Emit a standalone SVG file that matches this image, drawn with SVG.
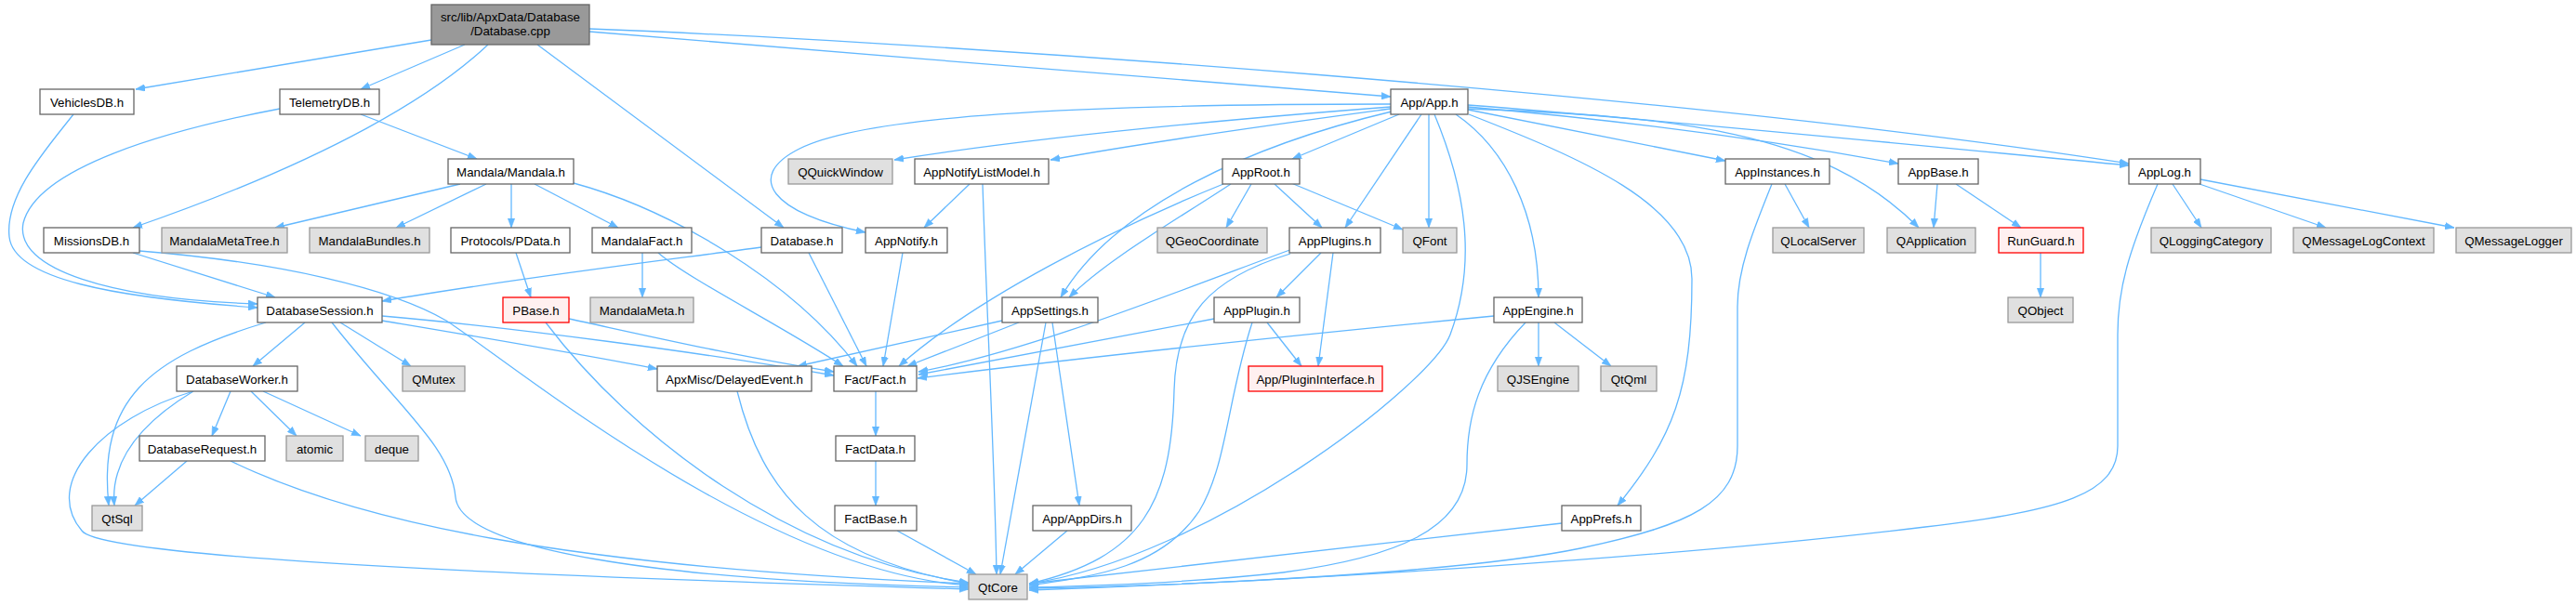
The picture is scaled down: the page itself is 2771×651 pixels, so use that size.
<svg xmlns="http://www.w3.org/2000/svg" width="2771" height="651" viewBox="0 0 2771 651">
<defs>
<marker id="a" markerUnits="userSpaceOnUse" viewBox="0 0 10 8" refX="10" refY="4" markerWidth="10" markerHeight="8" orient="auto">
<polygon points="0,0.3 10,4 0,7.7" fill="#63B8FF" stroke="#63B8FF" stroke-width="0.6"/>
</marker>
</defs>
<style>
.n rect{fill:#ffffff;stroke:#666666;stroke-width:1.3}
.g rect{fill:#E0E0E0;stroke:#999999;stroke-width:1.3}
.r rect{fill:#FFF0F0;stroke:#FF0000;stroke-width:1.3}
.root rect{fill:#999999;stroke:#666666;stroke-width:1.3}
text{font-family:"Liberation Sans",Arial,sans-serif;font-size:13.3px;fill:#000;text-anchor:middle}
#edges path{fill:none;stroke:#63B8FF;stroke-width:1.3;marker-end:url(#a)}
</style>
<rect width="2771" height="651" fill="#ffffff"/>
<g id="edges">
<path d="M464,43 L146,96"/>
<path d="M500,48 L388,96"/>
<path d="M525,48 C 470,100 360,170 143,245"/>
<path d="M578,48 L843,245"/>
<path d="M634,34 C 900,55 1300,90 1496,104"/>
<path d="M634,31 C 1000,45 1800,100 2290,176"/>
<path d="M79,123 C 50,160 5,210 10,255 C 15,300 120,320 277,331"/>
<path d="M301,117 C 180,140 40,180 25,240 C 15,290 120,322 277,327"/>
<path d="M388,123 L513,171"/>
<path d="M143,272 L296,320"/>
<path d="M150,270 C 300,282 420,310 480,345 C 550,390 820,615 1042,630"/>
<path d="M495,198 L296,245"/>
<path d="M523,198 L426,245"/>
<path d="M550,198 L550,245"/>
<path d="M575,198 L665,245"/>
<path d="M617,197 C 720,225 850,300 922,394"/>
<path d="M555,272 L571,320"/>
<path d="M691,272 L691,320"/>
<path d="M708,272 C 740,300 840,350 907,394"/>
<path d="M587,347 C 680,470 850,600 1042,627"/>
<path d="M612,343 C 700,362 800,385 897,400"/>
<path d="M819,266 C 700,282 550,300 411,324"/>
<path d="M870,272 L932,394"/>
<path d="M971,272 L950,394"/>
<path d="M411,340 C 550,352 760,380 897,404"/>
<path d="M411,345 C 500,360 620,380 707,397"/>
<path d="M328,347 L272,394"/>
<path d="M366,347 L442,394"/>
<path d="M286,347 C 160,385 105,430 117,544"/>
<path d="M357,347 C 430,440 485,480 490,535 C 495,590 700,625 1042,632"/>
<path d="M248,421 L228,469"/>
<path d="M270,421 L319,469"/>
<path d="M283,421 L388,469"/>
<path d="M208,421 C 160,450 118,490 123,544"/>
<path d="M208,421 C 110,450 45,520 88,571 C 105,595 400,615 1042,634"/>
<path d="M201,496 L145,544"/>
<path d="M248,496 C 380,560 600,610 1042,628"/>
<path d="M793,421 C 820,530 880,600 1042,628"/>
<path d="M942,421 L942,469"/>
<path d="M942,496 L942,544"/>
<path d="M965,571 L1050,618"/>
<path d="M1148,571 L1092,618"/>
<path d="M1132,347 L1161,544"/>
<path d="M1125,347 L1076,618"/>
<path d="M1096,347 L976,394"/>
<path d="M1078,345 L858,394"/>
<path d="M1043,198 L994,245"/>
<path d="M1057,198 C 1062,350 1070,500 1072,618"/>
<path d="M1496,115 C 1300,130 1100,150 962,172"/>
<path d="M1496,117 C 1400,130 1250,150 1130,172"/>
<path d="M1496,112 C 1150,112 930,125 860,160 C 800,190 830,230 931,250"/>
<path d="M1505,123 L1390,171"/>
<path d="M1497,120 C 1350,155 1200,220 1141,320"/>
<path d="M1324,198 C 1260,240 1190,280 1150,320"/>
<path d="M1316,198 C 1200,245 1050,320 967,394"/>
<path d="M1346,198 L1319,245"/>
<path d="M1371,198 L1422,245"/>
<path d="M1389,197 L1509,247"/>
<path d="M1529,123 L1447,245"/>
<path d="M1537,123 L1537,245"/>
<path d="M1543,123 C 1575,200 1590,280 1560,360 C 1540,413 1300,600 1107,628"/>
<path d="M1566,123 C 1620,160 1655,230 1655,320"/>
<path d="M1580,123 C 1700,170 1820,220 1820,300 C 1820,420 1800,470 1740,544"/>
<path d="M1579,118 L1856,173"/>
<path d="M1579,115 C 1750,130 1900,150 2042,176"/>
<path d="M1579,117 C 1800,125 1960,140 2064,245"/>
<path d="M1579,113 C 1800,130 2100,160 2290,178"/>
<path d="M1920,198 L1946,245"/>
<path d="M1906,198 C 1885,250 1869,290 1869,330 L1869,480 C 1869,540 1820,565 1700,590 C 1580,615 1300,630 1107,633"/>
<path d="M2084,198 L2080,245"/>
<path d="M2104,198 L2174,245"/>
<path d="M2195,272 L2195,320"/>
<path d="M2337,198 L2368,245"/>
<path d="M2366,198 L2502,245"/>
<path d="M2367,193 L2640,245"/>
<path d="M2321,198 C 2290,270 2278,310 2278,360 L2278,480 C 2278,530 2220,550 2071,567 C 1800,600 1400,625 1107,635"/>
<path d="M1680,563 L1107,628"/>
<path d="M1672,347 L1733,394"/>
<path d="M1655,347 L1655,394"/>
<path d="M1607,340 C 1400,360 1200,380 987,407"/>
<path d="M1641,347 C 1590,400 1578,450 1578,500 C 1578,570 1500,600 1380,616 C 1300,625 1200,630 1107,632"/>
<path d="M1421,272 L1373,320"/>
<path d="M1434,272 L1418,394"/>
<path d="M1390,268 C 1250,320 1100,380 988,400"/>
<path d="M1388,273 C 1300,300 1265,340 1263,420 C 1260,540 1230,600 1107,628"/>
<path d="M1306,343 L988,403"/>
<path d="M1363,347 L1400,394"/>
<path d="M1347,347 C 1320,430 1320,500 1290,550 C 1250,610 1180,620 1107,630"/>
</g>
<g id="n_root" class="root"><rect x="464" y="5" width="170" height="43"/><text x="549" y="22.5">src/lib/ApxData/Database</text><text x="549" y="37.5">/Database.cpp</text></g>
<g id="n_vehiclesdb" class="n"><rect x="43" y="96" width="101" height="27"/><text x="93.5" y="114.5">VehiclesDB.h</text></g>
<g id="n_telemetrydb" class="n"><rect x="301" y="96" width="107" height="27"/><text x="354.5" y="114.5">TelemetryDB.h</text></g>
<g id="n_app" class="n"><rect x="1496" y="96" width="83" height="27"/><text x="1537.5" y="114.5">App/App.h</text></g>
<g id="n_mandala" class="n"><rect x="482" y="171" width="135" height="27"/><text x="549.5" y="189.5">Mandala/Mandala.h</text></g>
<g id="n_qquickwindow" class="g"><rect x="848" y="171" width="112" height="27"/><text x="904" y="189.5">QQuickWindow</text></g>
<g id="n_appnotifylistmodel" class="n"><rect x="984" y="171" width="144" height="27"/><text x="1056" y="189.5">AppNotifyListModel.h</text></g>
<g id="n_approot" class="n"><rect x="1315" y="171" width="83" height="27"/><text x="1356.5" y="189.5">AppRoot.h</text></g>
<g id="n_appinstances" class="n"><rect x="1856" y="171" width="112" height="27"/><text x="1912" y="189.5">AppInstances.h</text></g>
<g id="n_appbase" class="n"><rect x="2042" y="171" width="86" height="27"/><text x="2085" y="189.5">AppBase.h</text></g>
<g id="n_applog" class="n"><rect x="2290" y="171" width="77" height="27"/><text x="2328.5" y="189.5">AppLog.h</text></g>
<g id="n_missionsdb" class="n"><rect x="47" y="245" width="103" height="27"/><text x="98.5" y="263.5">MissionsDB.h</text></g>
<g id="n_mandalametatree" class="g"><rect x="174" y="245" width="135" height="27"/><text x="241.5" y="263.5">MandalaMetaTree.h</text></g>
<g id="n_mandalabundles" class="g"><rect x="333" y="245" width="129" height="27"/><text x="397.5" y="263.5">MandalaBundles.h</text></g>
<g id="n_pdata" class="n"><rect x="485" y="245" width="128" height="27"/><text x="549" y="263.5">Protocols/PData.h</text></g>
<g id="n_mandalafact" class="n"><rect x="637" y="245" width="107" height="27"/><text x="690.5" y="263.5">MandalaFact.h</text></g>
<g id="n_database" class="n"><rect x="819" y="245" width="87" height="27"/><text x="862.5" y="263.5">Database.h</text></g>
<g id="n_appnotify" class="n"><rect x="931" y="245" width="88" height="27"/><text x="975" y="263.5">AppNotify.h</text></g>
<g id="n_qgeocoordinate" class="g"><rect x="1245" y="245" width="118" height="27"/><text x="1304" y="263.5">QGeoCoordinate</text></g>
<g id="n_appplugins" class="n"><rect x="1387" y="245" width="98" height="27"/><text x="1436" y="263.5">AppPlugins.h</text></g>
<g id="n_qfont" class="g"><rect x="1509" y="245" width="58" height="27"/><text x="1538" y="263.5">QFont</text></g>
<g id="n_qlocalserver" class="g"><rect x="1907" y="245" width="98" height="27"/><text x="1956" y="263.5">QLocalServer</text></g>
<g id="n_qapplication" class="g"><rect x="2030" y="245" width="95" height="27"/><text x="2077.5" y="263.5">QApplication</text></g>
<g id="n_runguard" class="r"><rect x="2150" y="245" width="91" height="27"/><text x="2195.5" y="263.5">RunGuard.h</text></g>
<g id="n_qloggingcategory" class="g"><rect x="2314" y="245" width="129" height="27"/><text x="2378.5" y="263.5">QLoggingCategory</text></g>
<g id="n_qmessagelogcontext" class="g"><rect x="2467" y="245" width="151" height="27"/><text x="2542.5" y="263.5">QMessageLogContext</text></g>
<g id="n_qmessagelogger" class="g"><rect x="2642" y="245" width="124" height="27"/><text x="2704" y="263.5">QMessageLogger</text></g>
<g id="n_databasesession" class="n"><rect x="277" y="320" width="134" height="27"/><text x="344" y="338.5">DatabaseSession.h</text></g>
<g id="n_pbase" class="r"><rect x="541" y="320" width="71" height="27"/><text x="576.5" y="338.5">PBase.h</text></g>
<g id="n_mandalameta" class="g"><rect x="635" y="320" width="111" height="27"/><text x="690.5" y="338.5">MandalaMeta.h</text></g>
<g id="n_appsettings" class="n"><rect x="1078" y="320" width="103" height="27"/><text x="1129.5" y="338.5">AppSettings.h</text></g>
<g id="n_appplugin" class="n"><rect x="1306" y="320" width="92" height="27"/><text x="1352" y="338.5">AppPlugin.h</text></g>
<g id="n_appengine" class="n"><rect x="1607" y="320" width="95" height="27"/><text x="1654.5" y="338.5">AppEngine.h</text></g>
<g id="n_qobject" class="g"><rect x="2160" y="320" width="70" height="27"/><text x="2195" y="338.5">QObject</text></g>
<g id="n_databaseworker" class="n"><rect x="190" y="394" width="130" height="27"/><text x="255" y="412.5">DatabaseWorker.h</text></g>
<g id="n_qmutex" class="g"><rect x="433" y="394" width="67" height="27"/><text x="466.5" y="412.5">QMutex</text></g>
<g id="n_delayedevent" class="n"><rect x="707" y="394" width="166" height="27"/><text x="790" y="412.5">ApxMisc/DelayedEvent.h</text></g>
<g id="n_fact" class="n"><rect x="897" y="394" width="89" height="27"/><text x="941.5" y="412.5">Fact/Fact.h</text></g>
<g id="n_plugininterface" class="r"><rect x="1343" y="394" width="144" height="27"/><text x="1415" y="412.5">App/PluginInterface.h</text></g>
<g id="n_qjsengine" class="g"><rect x="1611" y="394" width="87" height="27"/><text x="1654.5" y="412.5">QJSEngine</text></g>
<g id="n_qtqml" class="g"><rect x="1722" y="394" width="60" height="27"/><text x="1752" y="412.5">QtQml</text></g>
<g id="n_databaserequest" class="n"><rect x="150" y="469" width="135" height="27"/><text x="217.5" y="487.5">DatabaseRequest.h</text></g>
<g id="n_atomic" class="g"><rect x="308" y="469" width="61" height="27"/><text x="338.5" y="487.5">atomic</text></g>
<g id="n_deque" class="g"><rect x="393" y="469" width="57" height="27"/><text x="421.5" y="487.5">deque</text></g>
<g id="n_factdata" class="n"><rect x="899" y="469" width="85" height="27"/><text x="941.5" y="487.5">FactData.h</text></g>
<g id="n_qtsql" class="g"><rect x="99" y="544" width="54" height="27"/><text x="126" y="562.5">QtSql</text></g>
<g id="n_factbase" class="n"><rect x="898" y="544" width="88" height="27"/><text x="942" y="562.5">FactBase.h</text></g>
<g id="n_appdirs" class="n"><rect x="1111" y="544" width="106" height="27"/><text x="1164" y="562.5">App/AppDirs.h</text></g>
<g id="n_appprefs" class="n"><rect x="1680" y="544" width="85" height="27"/><text x="1722.5" y="562.5">AppPrefs.h</text></g>
<g id="n_qtcore" class="g"><rect x="1042" y="618" width="63" height="27"/><text x="1073.5" y="636.5">QtCore</text></g>
</svg>
